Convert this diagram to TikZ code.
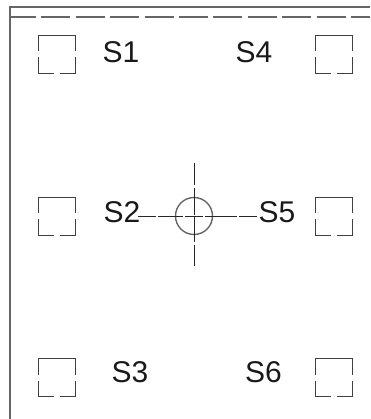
\documentclass[tikz,border=0pt]{standalone}
\usepackage{fontspec}
\setmainfont{Liberation Sans}
\usepackage{xcolor}

\begin{document}
\begin{tikzpicture}[x=1pt, y=-1pt]
    % Define styles
    \tikzstyle{frameline} = [draw=black!60, line width=1.7pt]
    \tikzstyle{hiddenline} = [draw=black!60, line width=1.5pt, dash pattern=on 29pt off 5.4pt, dash phase=3pt]
    \tikzstyle{pad} = [rectangle, minimum width=37pt, minimum height=38pt, inner sep=0pt, outer sep=0pt, draw=black!75, line width=0.9pt, dash pattern=on 16pt off 6pt on 31pt off 6pt on 69pt off 6pt on 16pt]
    \tikzstyle{label} = [inner sep=0pt, font=\fontsize{30}{30}\selectfont, text=black!90]
    \tikzstyle{centerline} = [draw=black!85, line width=0.9pt]

    \useasboundingbox (0,0) rectangle (370,419);

    % Frame
    \coordinate (frametop) at (10,7);
    \coordinate (framecorner) at (370,7);
    \coordinate (framebottom) at (10,419);
    \coordinate (hiddenleft) at (10,17);
    \coordinate (hiddenright) at (370,17);
    \draw [frameline] (framecorner) -- (frametop) -- (framebottom);
    \draw [hiddenline] (hiddenleft) -- (hiddenright);

    % Nodes
    \node (pad1) [pad] at (56.5,54) {};
    \node (pad2) [pad] at (56.5,216) {};
    \node (pad3) [pad] at (56.5,377.5) {};
    \node (pad4) [pad] at (333.5,54) {};
    \node (pad5) [pad] at (333.5,216) {};
    \node (pad6) [pad] at (333.5,377.5) {};
    \node (s1) [label] at (121,52) {S1};
    \node (s2) [label] at (122,212) {S2};
    \node (s3) [label] at (130,372) {S3};
    \node (s4) [label] at (254,52) {S4};
    \node (s5) [label] at (277,212) {S5};
    \node (s6) [label] at (263.5,372) {S6};
    \node (hole) [circle, minimum size=37pt, inner sep=0pt, draw=black!60, line width=1.4pt] at (194,216) {};

    % Centre lines
    \coordinate (axistop) at (194,163);
    \coordinate (axisbottom) at (194,266);
    \coordinate (axisleft) at (138,216);
    \coordinate (axisright) at (257,216);
    \draw [centerline, dash pattern=on 22pt off 3pt on 27pt off 2pt on 25pt off 3pt on 21pt] (axistop) -- (axisbottom);
    \draw [centerline, dash pattern=on 18pt off 2pt on 25pt off 2pt on 18pt off 2pt on 32pt off 2pt on 18pt] (axisleft) -- (axisright);
\end{tikzpicture}
\end{document}
